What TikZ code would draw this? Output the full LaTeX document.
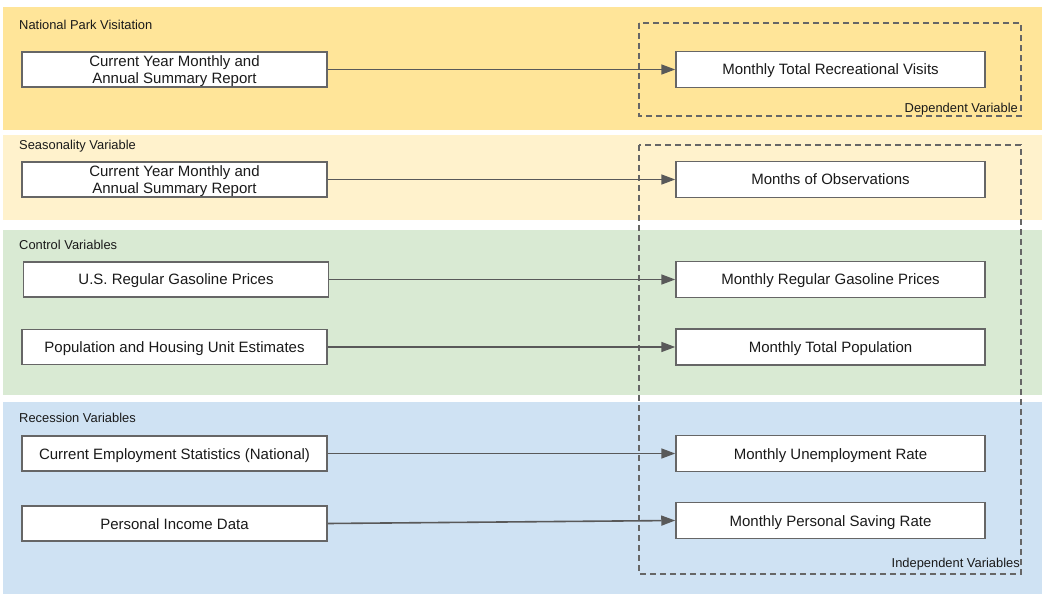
\documentclass[tikz,border=0pt]{standalone}
\usepackage{fontspec}
\setmainfont{Liberation Sans}
\usetikzlibrary{arrows.meta}
\definecolor{bandA}{HTML}{FFE599}
\definecolor{bandB}{HTML}{FFF2CC}
\definecolor{bandC}{HTML}{D9EAD3}
\definecolor{bandD}{HTML}{CFE2F3}
\definecolor{edgegray}{HTML}{666666}
\definecolor{linegray}{HTML}{595959}
\definecolor{txt}{HTML}{1A1A1A}
\tikzset{
  bandlabel/.style={anchor=west, font=\fontsize{12.9}{15}\selectfont, text=txt, inner sep=0pt},
  srcbox/.style={draw=edgegray, line width=1.5pt, fill=white, minimum width=305pt, minimum height=35pt, inner sep=0pt, align=center, font=\fontsize{15}{17}\selectfont, text=txt, text depth=0pt},
  oneline/.style={text height=11pt, text depth=0pt},
  dstbox/.style={draw=edgegray, line width=1.5pt, fill=white, minimum width=309pt, minimum height=36pt, inner sep=0pt, align=center, font=\fontsize{15}{17}\selectfont, text=txt, oneline},
  grp/.style={draw=edgegray, line width=1.5pt, dash pattern=on 6pt off 4pt},
  grplabel/.style={anchor=east, font=\fontsize{12.9}{15}\selectfont, text=txt, inner sep=0pt},
  conn/.style={draw=linegray, line width=1.6pt, -{Triangle[length=14pt,width=10pt]}}
}
\begin{document}
\begin{tikzpicture}[x=1pt,y=-1pt]
\useasboundingbox (0,0) rectangle (1046,601);
\fill[white] (0,0) rectangle (1046,601);
% bands
\fill[bandA] (3,7) rectangle (1042,130);
\fill[bandB] (3,135) rectangle (1042,220);
\fill[bandC] (3,230) rectangle (1042,395);
\fill[bandD] (3,402) rectangle (1042,594);
\node[bandlabel] (l1) at (19,24.5) {National Park Visitation};
\node[bandlabel] (l2) at (19,146.5) {Seasonality Variable};
\node[bandlabel] (l3) at (19,244.5) {Control Variables};
\node[bandlabel] (l4) at (19,417.5) {Recession Variables};
% dashed groups
\draw[grp] (639,23) rectangle (1021,116);
\draw[grp] (639,145) rectangle (1021,574);
\node[grplabel] (g1) at (1018,109.5) {Dependent Variable};
\node[grplabel] (g2) at (1020,564.5) {Independent Variables};
% source boxes
\node[srcbox] (s1) at (174.5,69.5) {Current Year Monthly and\\Annual Summary Report};
\node[srcbox] (s2) at (174.5,179.5) {Current Year Monthly and\\Annual Summary Report};
\node[srcbox, oneline] (s3) at (176,279.5) {U.S. Regular Gasoline Prices};
\node[srcbox, oneline] (s4) at (174.5,347) {Population and Housing Unit Estimates};
\node[srcbox, oneline] (s5) at (174.5,453.5) {Current Employment Statistics (National)};
\node[srcbox, oneline] (s6) at (174.5,523.5) {Personal Income Data};
% target boxes
\node[dstbox] (d1) at (830.5,69.5) {Monthly Total Recreational Visits};
\node[dstbox] (d2) at (830.5,179.5) {Months of Observations};
\node[dstbox] (d3) at (830.5,279.5) {Monthly Regular Gasoline Prices};
\node[dstbox] (d4) at (830.5,347) {Monthly Total Population};
\node[dstbox] (d5) at (830.5,453.5) {Monthly Unemployment Rate};
\node[dstbox] (d6) at (830.5,520.5) {Monthly Personal Saving Rate};
% connectors
\draw[conn] (s1) -- (d1);
\draw[conn] (s2) -- (d2);
\draw[conn] (s3) -- (d3);
\draw[conn] (s4) -- (d4);
\draw[conn] (s5) -- (d5);
\draw[conn] (s6.east) -- (d6.west);
\end{tikzpicture}
\end{document}
